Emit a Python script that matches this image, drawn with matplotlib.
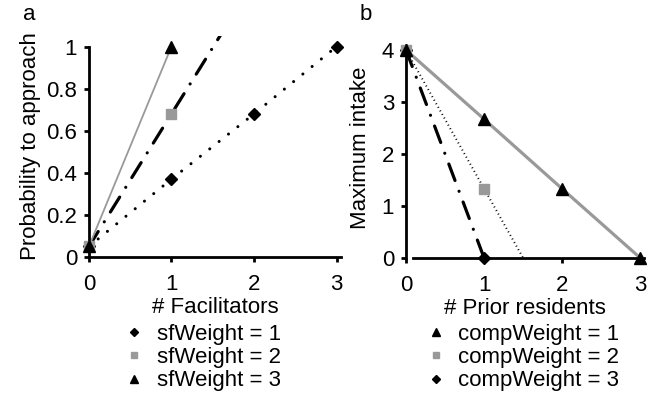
import numpy as np
import matplotlib.pyplot as plt

plt.rcParams['font.family'] = ['Liberation Sans', 'DejaVu Sans']
plt.rcParams['font.size'] = 16

# panel a: probability to approach vs number of facilitators
fac_x = [0, 1, 2, 3]
sf1_y = [0.05, 0.37, 0.68, 1.0]
sf2_x = [0, 1]
sf2_y = [0.05, 0.68]
sf3_x = [0, 1]
sf3_y = [0.05, 1.0]
sf2_fit_x = [0, 1, 2]
sf2_fit_y = [0.05, 0.68, 1.31]

# panel b: maximum intake vs number of prior residents
res_x = [0, 1, 2, 3]
comp1_y = [4, 2.67, 1.33, 0]
comp2_x = [0, 1]
comp2_y = [4, 1.33]
comp3_x = [0, 1]
comp3_y = [4, 0]
comp2_fit_x = [0, 1.5]
comp2_fit_y = [4, 0]

gray = '#999999'
dotted = dict(linestyle=(0, (0.01, 3.9)), dash_capstyle='round', lw=2.2, color='k')
dashdot = dict(linestyle=(0, (5.5, 3.6, 0.01, 3.6)), dash_capstyle='round', lw=2.3, color='k')

fig = plt.figure(figsize=(6.49, 4.0), dpi=100)
ax1 = fig.add_axes([0.137, 0.3575, 0.388, 0.5525])
ax2 = fig.add_axes([0.6256, 0.355, 0.367, 0.52])

def style_axes(ax):
    for s in ['top', 'right']:
        ax.spines[s].set_visible(False)
    for s in ['left', 'bottom']:
        ax.spines[s].set_linewidth(2)
    ax.tick_params(direction='out', length=3.5, width=2)
    ax.tick_params(axis='x', pad=9)
    ax.tick_params(axis='y', pad=5)

# ---- a ----
ax1.plot(fac_x, sf1_y, **dotted)
ax1.plot(sf2_fit_x, sf2_fit_y, **dashdot)
ax1.plot(sf3_x, sf3_y, color=gray, lw=1.3)
ax1.plot(fac_x, sf1_y, 'D', color='k', ms=6.5, ls='none', label='sfWeight = 1', clip_on=False, zorder=5)
ax1.plot(sf2_x, sf2_y, 's', color=gray, ms=7, ls='none', label='sfWeight = 2', clip_on=False, zorder=6)
ax1.plot(sf3_x, sf3_y, '^', color='k', ms=8.5, ls='none', label='sfWeight = 3', clip_on=False, zorder=7)
ax1.set_xlim(0, 3.05)
ax1.set_ylim(0, 1.05)
ax1.set_xticks([0, 1, 2, 3])
ax1.set_yticks([0, 0.2, 0.4, 0.6, 0.8, 1])
ax1.set_yticklabels(['0', '0.2', '0.4', '0.6', '0.8', '1'])
style_axes(ax1)
ax1.spines['left'].set_bounds(0, 1)
ax1.set_xlabel('# Facilitators', labelpad=1)
ax1.set_ylabel('Probability to approach', labelpad=4)
fig.text(29 / 649, 1 - 14 / 400, 'a', ha='center', va='center', fontsize=16)
ax1.legend(loc='upper left', bbox_to_anchor=(0.19, 0.19), bbox_transform=fig.transFigure,
           frameon=False, markerscale=0.7, handlelength=1.0, handletextpad=0.5,
           labelspacing=0.1, borderpad=0, borderaxespad=0)

# ---- b ----
ax2.plot(res_x, comp1_y, color=gray, lw=2.3)
ax2.plot(comp2_fit_x, comp2_fit_y, color='k', lw=1.4, linestyle=(0, (0.5, 1.6)))
ax2.plot(comp3_x, comp3_y, **dashdot)
ax2.plot(comp3_x, comp3_y, 'D', color='k', ms=6.5, ls='none', label='compWeight = 3', clip_on=False, zorder=5)
ax2.plot(comp2_x, comp2_y, 's', color=gray, ms=7, ls='none', label='compWeight = 2', clip_on=False, zorder=6)
ax2.plot(res_x, comp1_y, '^', color='k', ms=8.5, ls='none', label='compWeight = 1', clip_on=False, zorder=7)
ax2.set_xlim(0, 3.05)
ax2.set_ylim(0, 4)
ax2.set_xticks([0, 1, 2, 3])
ax2.set_yticks([0, 1, 2, 3, 4])
style_axes(ax2)
ax2.spines['bottom'].set_bounds(0.09, 3.05)
ax2.set_xlabel('# Prior residents', labelpad=1)
ax2.set_ylabel('Maximum intake', labelpad=8)
ax2.yaxis.label.set_y(0.53)
fig.text(366 / 649, 1 - 14 / 400, 'b', ha='center', va='center', fontsize=16)
h, l = ax2.get_legend_handles_labels()
ax2.legend(h[::-1], l[::-1], loc='upper left', bbox_to_anchor=(0.655, 0.19), bbox_transform=fig.transFigure,
           frameon=False, markerscale=0.7, handlelength=1.0, handletextpad=0.5,
           labelspacing=0.1, borderpad=0, borderaxespad=0)

fig.savefig('out.png', dpi=100)
